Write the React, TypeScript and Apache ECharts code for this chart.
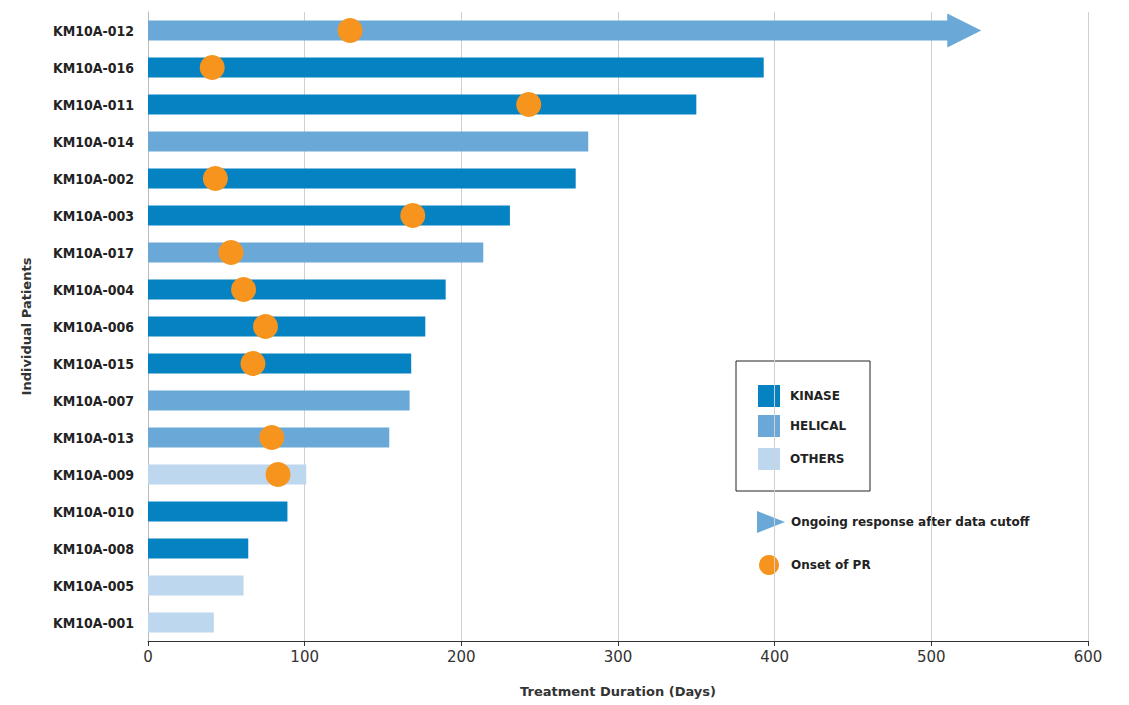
import React, { useEffect, useRef } from "react";
import * as echarts from "echarts";

const patients = ["KM10A-012","KM10A-016","KM10A-011","KM10A-014","KM10A-002","KM10A-003","KM10A-017","KM10A-004","KM10A-006","KM10A-015","KM10A-007","KM10A-013","KM10A-009","KM10A-010","KM10A-008","KM10A-005","KM10A-001"];
const durations = [511,393,350,281,273,231,214,190,177,168,167,154,101,89,64,61,42];
const types = ["H","K","K","H","K","K","H","K","K","K","H","H","O","K","K","O","O"];
const onsetPR: (number | null)[] = [129,41,243,null,43,169,53,61,75,67,null,79,83,null,null,null,null];
const ongoingArrow: (number | null)[] = [521,null,null,null,null,null,null,null,null,null,null,null,null,null,null,null,null];
const xTicks = [0,100,200,300,400,500,600];

const colors: Record<string,string> = { K: "#0582c1", H: "#6aa9d7", O: "#bdd7ee" };
const cats = [...patients].reverse();
const rev = <T,>(a: T[]) => [...a].reverse();

export default function App() {
  const ref = useRef<HTMLDivElement>(null);
  useEffect(() => {
    const chart = echarts.init(ref.current!, null, { renderer: "svg" });
    const t = rev(types);
    const lf = "'DejaVu Sans', sans-serif";
    chart.setOption({
      animation: false,
      grid: { left: 148, right: 41, top: 12, bottom: 64 },
      xAxis: {
        type: "value", min: 0, max: 600, interval: 100,
        name: "Treatment Duration (Days)", nameLocation: "middle", nameGap: 44,
        nameTextStyle: { fontSize: 13, fontWeight: "bold", color: "#333", fontFamily: lf },
        axisLine: { show: true, lineStyle: { color: "#333" } },
        axisTick: { show: true, length: 5, lineStyle: { color: "#333" } },
        axisLabel: { fontSize: 15, color: "#333", fontFamily: lf, formatter: (v: number) => xTicks.includes(v) ? String(v) : "" },
        splitLine: { show: true, lineStyle: { color: "#d0d0d0" } },
      },
      yAxis: {
        type: "category", data: cats,
        name: "Individual Patients", nameLocation: "middle", nameGap: 115, nameRotate: 90,
        nameTextStyle: { fontSize: 13, fontWeight: "bold", color: "#333", fontFamily: lf },
        axisLine: { show: true, lineStyle: { color: "#bbb" } },
        axisTick: { show: false },
        axisLabel: { fontSize: 14, fontWeight: "bold", color: "#222", fontFamily: "'DejaVu Sans Condensed', 'DejaVu Sans', sans-serif", margin: 14 },
      },
      series: [
        {
          type: "bar", barWidth: 20,
          data: rev(durations).map((v, i) => ({ value: v, itemStyle: { color: colors[t[i]] } })),
        },
        {
          type: "scatter", symbol: "path://M0,0 L1,0.5 L0,1 Z", symbolSize: [34, 34],
          itemStyle: { color: "#6aa9d7", opacity: 1 }, data: rev(ongoingArrow), z: 3,
        },
        {
          type: "scatter", symbol: "circle", symbolSize: 25,
          itemStyle: { color: "#f7941d", opacity: 1 }, data: rev(onsetPR), z: 4,
        },
      ],
      graphic: [
        { type: "rect", shape: { x: 736, y: 361, width: 134, height: 130 }, style: { fill: "#fff", stroke: "#222", lineWidth: 1 } },
        { type: "rect", shape: { x: 758, y: 385, width: 22, height: 22 }, style: { fill: colors.K } },
        { type: "rect", shape: { x: 758, y: 415, width: 22, height: 22 }, style: { fill: colors.H } },
        { type: "rect", shape: { x: 758, y: 448, width: 22, height: 22 }, style: { fill: colors.O } },
        { type: "text", x: 790, y: 396, style: { text: "KINASE", fontSize: 12, fontWeight: "bold", fill: "#222", fontFamily: lf, verticalAlign: "middle" } },
        { type: "text", x: 790, y: 426, style: { text: "HELICAL", fontSize: 12, fontWeight: "bold", fill: "#222", fontFamily: lf, verticalAlign: "middle" } },
        { type: "text", x: 790, y: 459, style: { text: "OTHERS", fontSize: 12, fontWeight: "bold", fill: "#222", fontFamily: lf, verticalAlign: "middle" } },
        { type: "polygon", shape: { points: [[757, 511], [785, 522], [757, 533]] }, style: { fill: "#6aa9d7" } },
        { type: "text", x: 791, y: 522, style: { text: "Ongoing response after data cutoff", fontSize: 12, fontWeight: "bold", fill: "#222", fontFamily: lf, verticalAlign: "middle" } },
        { type: "circle", shape: { cx: 769, cy: 565, r: 10 }, style: { fill: "#f7941d" } },
        { type: "text", x: 791, y: 565, style: { text: "Onset of PR", fontSize: 12, fontWeight: "bold", fill: "#222", fontFamily: lf, verticalAlign: "middle" } },
      ],
    });
    return () => chart.dispose();
  }, []);
  return <div ref={ref} style={{ width: 1129, height: 705, position: "absolute", left: 0, top: 0, background: "#fff" }} />;
}
